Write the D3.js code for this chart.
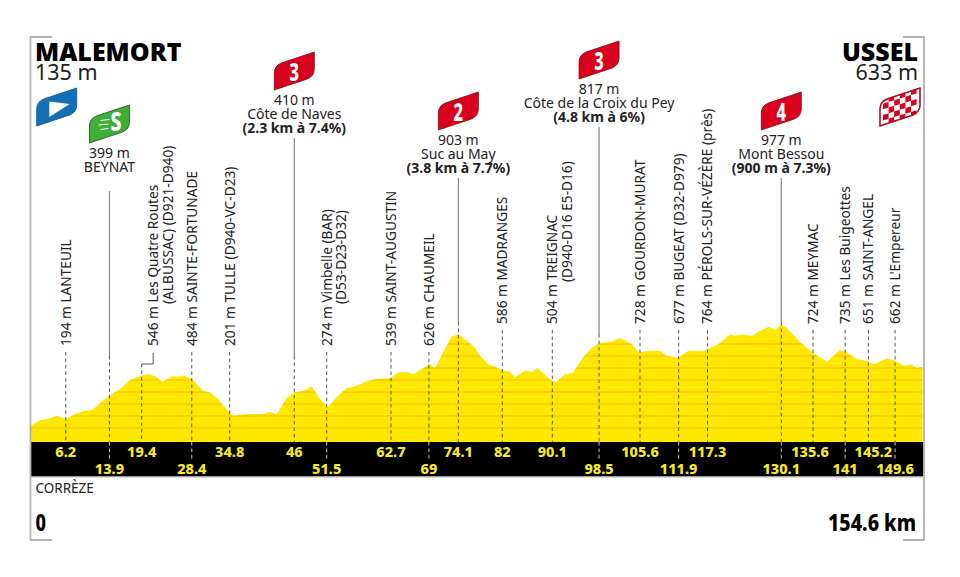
<!DOCTYPE html>
<html>
<head>
<meta charset="utf-8">
<script src="https://d3js.org/d3.v7.min.js"></script>
<style>
body { margin: 0; background: #fff; }
text { font-family: "Noto Sans", sans-serif; fill: #222; }
</style>
</head>
<body>
<svg width="960" height="577"></svg>
<script>
// stage data
var start = ["MALEMORT", "135 m"], finish = ["USSEL", "633 m"];
var department = "CORRÈZE", totalKm = 154.6, totalLabel = "154.6 km";

// profile
var profileKm = [0,1.6,2.7,4.5,6.2,7.6,9.4,10.7,12.3,13.9,15.4,17.2,19.2,20.3,21.5,22.8,24.4,26.7,27.9,29.9,31,32.2,34.5,35.1,37.1,38.8,40.3,41.4,42.6,44.3,45.7,47.2,48.7,49.8,51.4,53,54.7,56.5,57.9,59.6,62.3,63.7,65.1,66.3,67.5,69,70.1,71.5,72.9,74.1,76.1,77,77.8,79.3,80.5,81.7,83.1,83.9,85.8,86.8,87.8,90.4,91.2,92.6,93.9,95.8,97.2,98.5,100.4,102.1,104.2,105.4,107,109.1,110.2,112.2,114,116.9,117.3,119.2,121.2,122.1,123.4,125,126.1,127.9,129,130,130.9,133.3,135.6,138.1,140.2,141.1,143.2,144.9,146.2,148.4,149.8,151.4,152.5,153.6,154.6];
var profileElev = [135,185,191,219,194,236,263,272,339,399,444,522,560,572,556,508,550,556,528,429,418,373,242,221,236,236,236,253,233,368,421,429,469,381,292,376,452,474,505,530,536,587,589,572,606,654,625,760,886,907,831,791,728,654,634,604,592,545,604,589,620,513,508,572,578,718,789,831,842,873,825,752,769,769,724,710,769,769,780,822,907,895,907,890,928,971,943,985,971,844,747,676,774,766,696,684,654,705,684,640,654,625,633];
var gridElev = [118,219,320,421,522,623,724,825];

// distance marks in the black band
var upperKm = [6.2,19.4,34.8,46,62.7,74.1,82,90.1,105.6,117.3,135.6,145.2];
var lowerKm = [13.9,28.4,51.5,69,98.5,111.9,130.1,141,149.6];

// rotated place names
var placeKm = [6.2,19.4,28.4,34.8,51.5,62.7,69,82,90.1,105.6,111.9,117.3,135.6,141,145.2,149.6];
var placeName = ["194 m LANTEUIL","546 m Les Quatre Routes","484 m SAINTE-FORTUNADE","201 m TULLE (D940-VC-D23)","274 m Vimbelle (BAR)","539 m SAINT-AUGUSTIN","626 m CHAUMEIL","586 m MADRANGES","504 m TREIGNAC","728 m GOURDON-MURAT","677 m BUGEAT (D32-D979)","764 m PÉROLS-SUR-VÉZÈRE (près)","724 m MEYMAC","735 m Les Buigeottes","651 m SAINT-ANGEL","662 m L'Empereur"];
var placeExtra = {19.4: "(ALBUSSAC) (D921-D940)", 51.5: "(D53-D23-D32)", 90.1: "(D940-D16 E5-D16)"};

// sprint and climbs
var summitKm = [13.9,46,74.1,98.5,130.1];
var summitCat = ["S","3","2","3","4"];
var summitAlt = ["399 m","410 m","903 m","817 m","977 m"];
var summitName = ["BEYNAT","Côte de Naves","Suc au May","Côte de la Croix du Pey","Mont Bessou"];
var summitClimb = ["","(2.3 km à 7.4%)","(3.8 km à 7.7%)","(4.8 km à 6%)","(900 m à 7.3%)"];

// layout
var svg = d3.select("svg");
var x = d3.scaleLinear().domain([0,totalKm]).range([31,922.6]);
var y = d3.scaleLinear().domain([0,1000]).range([442,323.2]);
var bandTop = 442, bandBottom = 476.5;
var summitBase = [158,105,145,94,145], summitSolidEnd = [356,356,322,334,322];
var profile = profileKm.map(function(k,i) { return [k, profileElev[i]]; });

// the printed marks sit a little off a straight km scale
var markNudge = {6.2:-1,13.9:-1.7,19.4:-1.2,28.4:-3,34.8:-2,46:-2,51.5:-1.3,62.7:-1.6,82:-1.6,90.1:1.7,111.9:2.3,141:1,149.6:1.3};
function mx(k) { return x(k) + (markNudge[k] || 0); }

//profile + grid clipped to it
var area = d3.area().x(function(d) { return x(d[0]); }).y0(bandTop).y1(function(d) { return y(d[1]); });
svg.append("clipPath").attr("id","prof").append("path").attr("d", area(profile));
svg.append("path").attr("d", area(profile)).attr("fill","#ffe800");
svg.append("g").attr("clip-path","url(#prof)").selectAll("line").data(gridElev).enter().append("line")
	.attr("x1",x(0)).attr("x2",x(totalKm)).attr("y1",y).attr("y2",y)
	.attr("stroke","#f7b500").attr("stroke-width",1.2);

//band
svg.append("rect").attr("x",31).attr("y",bandTop).attr("width",x(totalKm)-30).attr("height",bandBottom-bandTop).attr("fill","#000");
svg.append("line").attr("x1",31).attr("x2",924).attr("y1",bandBottom+.5).attr("y2",bandBottom+.5).attr("stroke","#bbb").attr("stroke-width",1);

//frame
var frame = d3.line();
[[[52,37],[30.5,37],[30.5,540],[52,540]], [[903,37],[924,37],[924,540],[903,540]]].forEach(function(p) {
	svg.append("path").attr("d",frame(p)).attr("fill","none").attr("stroke","#b3b3b3").attr("stroke-width",1.8);
});

//dashes
function dash(k, from) {
	svg.append("line").attr("x1",mx(k)).attr("x2",mx(k)).attr("y1",from).attr("y2",bandTop)
		.attr("stroke","#555").attr("stroke-width",1).attr("stroke-dasharray","3.5,3");
	if (lowerKm.indexOf(k) >= 0)
		svg.append("line").attr("x1",mx(k)).attr("x2",mx(k)).attr("y1",bandTop).attr("y2",459)
			.attr("stroke","#ccc").attr("stroke-width",1).attr("stroke-dasharray","3.5,3");
}

//rotated labels
placeKm.forEach(function(k,i) {
	var base = k < 75 ? 346 : 324, lx = mx(k), from = base + 6;
	if (k === 19.4) {
		lx = mx(k) + 11.5; from = 364;
		svg.append("path").attr("d", frame([[lx,353],[lx,364],[mx(k),364]])).attr("fill","none").attr("stroke","#555");
	}
	dash(k, from);
	var g = svg.append("g").attr("transform","translate("+lx+","+base+") rotate(-90)");
	g.append("text").attr("dy","0.36em").attr("font-size",13.7).text(placeName[i]);
	if (placeExtra[k])
		g.append("text").attr("x",42).attr("y",14.5).attr("dy","0.36em").attr("font-size",13.7).text(placeExtra[k]);
});

//flag shape
var flagPath = "M0,38L0,21Q0,14 7,11L40,0L40,17Q40,24 33,27Z";
function flag(cx, top, color, border) {
	return svg.append("g").attr("transform","translate("+(cx-20)+","+top+")").call(function(g) {
		g.append("path").attr("d",flagPath).attr("fill",color).attr("stroke",border).attr("stroke-width",.8);
	});
}

//summits
summitKm.forEach(function(k,i) {
	var b = summitBase[i], px = mx(k), climb = summitClimb[i];
	var g = svg.append("g").attr("text-anchor","middle").attr("font-size",14);
	g.append("text").attr("x",px).attr("y",b).text(summitAlt[i]);
	g.append("text").attr("x",px).attr("y",b+13.7).text(summitName[i]);
	if (climb) g.append("text").attr("x",px).attr("y",b+27.7).attr("font-weight",700).attr("font-size",14).text(climb);
	svg.append("line").attr("x1",px).attr("x2",px).attr("y1",b+33).attr("y2",summitSolidEnd[i]).attr("stroke","#888").attr("stroke-width",1.2);
	dash(k, summitSolidEnd[i]);
	var isSprint = summitCat[i] === "S";
	var f = flag(px, b-53, isSprint ? "#3fae38" : "#d8001c", isSprint ? "#14501a" : "#7d0a14");
	if (isSprint) {
		f.append("text").attr("x",26.5).attr("y",26).attr("text-anchor","middle").attr("font-size",27).attr("font-weight",800)
			.attr("textLength",11).attr("lengthAdjust","spacingAndGlyphs").style("fill","#fff").text("S");
		[[11,20],[9,19],[11,19]].forEach(function(s,j) {
			f.append("line").attr("x1",s[0]).attr("x2",s[1]).attr("y1",15.5+j*4.5).attr("y2",14.5+j*4.5).attr("stroke","#fff").attr("stroke-width",1.1);
		});
	} else {
		f.append("text").attr("x",20).attr("y",28.5).attr("text-anchor","middle").attr("font-size",25).attr("font-weight",800)
			.attr("textLength",9.5).attr("lengthAdjust","spacingAndGlyphs").style("fill","#fff").text(summitCat[i]);
	}
});

//start flag
var startFlag = flag(56.7, 88, "#1270b8", "#0d4f86");
startFlag.append("path").attr("d",d3.line()([[12.6,13.5],[33,16],[12.6,29]])).attr("fill","#fff");

//finish flag
var endFlag = flag(900, 88, "#fff", "#b40d20");
endFlag.append("clipPath").attr("id","chk").append("path").attr("d",flagPath);
var checks = endFlag.append("g").attr("clip-path","url(#chk)").append("g").attr("transform","translate(0,12) skewY(-17)");
d3.range(3,36,5.6).forEach(function(cx,c) {
	d3.range(-1,22,5.6).forEach(function(cy,r) {
		if ((c+r)%2) checks.append("rect").attr("x",cx).attr("y",cy).attr("width",5.6).attr("height",5.6).attr("fill","#d8001c");
	});
});
endFlag.append("path").attr("d",flagPath).attr("fill","none").attr("stroke","#b40d20").attr("stroke-width",1.4);

//title blocks
svg.append("text").attr("x",35).attr("y",61).attr("font-size",25).attr("font-weight",900).style("fill","#000").text(start[0]);
svg.append("text").attr("x",35).attr("y",80).attr("font-size",21.5).text(start[1]);
svg.append("text").attr("x",918).attr("y",61).attr("text-anchor","end").attr("font-size",25).attr("font-weight",900).style("fill","#000").text(finish[0]);
svg.append("text").attr("x",918).attr("y",80).attr("text-anchor","end").attr("font-size",21.5).text(finish[1]);

//km marks
function kmText(list, yy) {
	svg.append("g").selectAll("text").data(list).enter().append("text")
		.attr("x",function(d) { return mx(d) + (d === 145.2 ? 5 : d === 135.6 ? -3 : 0); })
		.attr("y",yy).attr("text-anchor","middle").attr("font-size",14.5).attr("font-weight",800)
		.style("fill","#f5e72a").text(function(d) { return d; });
}
kmText(upperKm, 456.5);
kmText(lowerKm, 473.5);

//bottom
svg.append("text").attr("x",35.5).attr("y",493).attr("font-size",13.5).text(department);
svg.append("text").attr("x",35.5).attr("y",531).attr("font-size",23).attr("font-weight",800)
	.attr("textLength",10.5).attr("lengthAdjust","spacingAndGlyphs").style("fill","#000").text("0");
svg.append("text").attr("x",916).attr("y",531).attr("text-anchor","end").attr("font-size",23).attr("font-weight",800)
	.attr("textLength",88).attr("lengthAdjust","spacingAndGlyphs").style("fill","#000").text(totalLabel);
</script>
</body>
</html>
